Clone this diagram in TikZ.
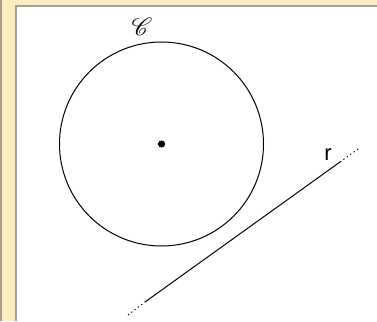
\documentclass[tikz,border=0pt]{standalone}
\usepackage{fontspec}
\usepackage{mathrsfs}
\newfontfamily\labelfont{Liberation Sans}
\definecolor{framebeige}{RGB}{254,236,193}
\definecolor{framegray}{RGB}{168,160,140}
\begin{document}
\begin{tikzpicture}[x=1pt,y=-1pt,line width=1pt]
    \useasboundingbox (0,0) rectangle (377,321);
    % frame
    \fill[framebeige](0,0) rectangle (377,321);
    \fill[white](17,7) rectangle (377,321);
    \draw[framegray,line width=2pt](1,0)--(1,321);
    \draw[framegray,line width=2pt](377,6)-|(16,321);
    % circle and its centre
    \coordinate (O) at (161.5,144);
    \draw (O) circle (102);
    \fill (O) circle (3.6);
    \node at (142,27) {\fontsize{24}{24}\selectfont$\mathscr{C}$};
    % line r
    \coordinate (A) at (128,315);
    \coordinate (B) at (145,302);
    \coordinate (C) at (340,162);
    \coordinate (D) at (358,149);
    \draw (B)--(C);
    \draw[dash pattern=on 1.2pt off 3pt] (A)--(B) (C)--(D);
    \node at (328,155) {\fontsize{22}{22}\labelfont r};
\end{tikzpicture}
\end{document}
